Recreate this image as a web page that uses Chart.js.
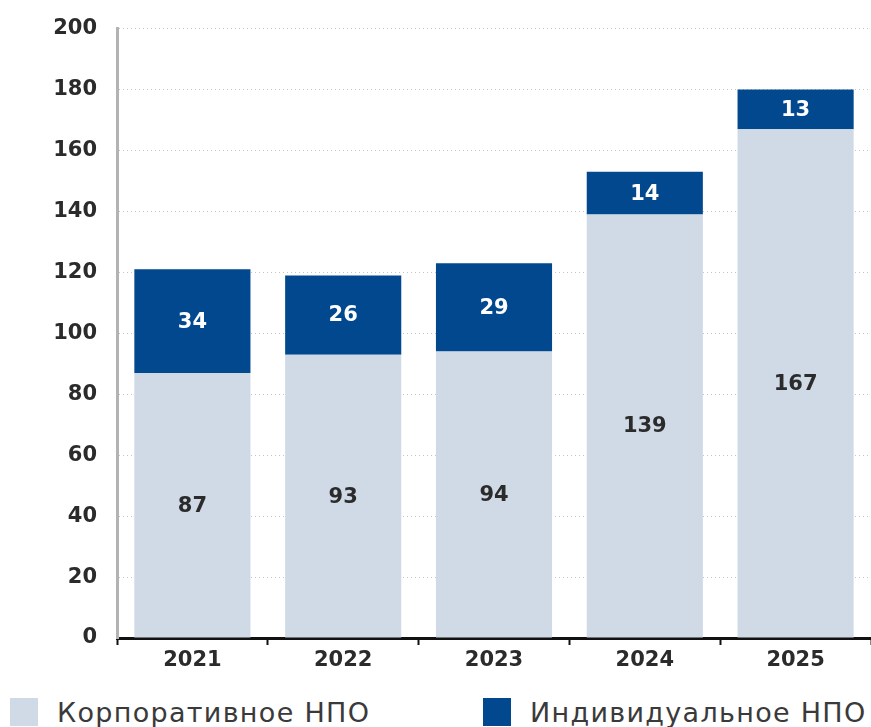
<!DOCTYPE html>
<html>
<head>
<meta charset="utf-8">
<script src="https://cdn.jsdelivr.net/npm/chart.js@4"></script>
<style>
  html, body { margin: 0; padding: 0; background: #fff; overflow: hidden; }
  #wrap { position: relative; width: 871px; height: 727px; overflow: hidden; }
  #npoChart { position: absolute; left: 0; top: -4px; }
  .legend-item { position: absolute; top: 698px; height: 28px; display: flex; align-items: center;
    font-family: "DejaVu Sans", sans-serif; font-size: 27px; letter-spacing: 1.3px; color: #3a3a3a; white-space: nowrap; }
  .legend-item span.box { display: inline-block; width: 28px; height: 28px; margin-right: 19px; }
</style>
</head>
<body>
<div id="wrap">
  <canvas id="npoChart" width="871" height="696"></canvas>
  <div id="legend"></div>
</div>
<script>
const years = ['2021', '2022', '2023', '2024', '2025'];
const corporate = [87, 93, 94, 139, 167];
const individual = [34, 26, 29, 14, 13];
const yTicks = [0, 20, 40, 60, 80, 100, 120, 140, 160, 180, 200];

const FONT = '"DejaVu Sans", sans-serif';
const colors = ['#d0dae6', '#02488f'];

// value labels centered in each bar segment
const segmentLabels = {
  id: 'segmentLabels',
  afterDatasetsDraw(chart) {
    const ctx = chart.ctx;
    ctx.save();
    ctx.font = 'bold 21px ' + FONT;
    ctx.textAlign = 'center';
    ctx.textBaseline = 'middle';
    chart.data.datasets.forEach((ds, i) => {
      chart.getDatasetMeta(i).data.forEach((bar, j) => {
        const p = bar.getProps(['x', 'y', 'base'], true);
        ctx.fillStyle = i === 0 ? '#2b2b2b' : '#ffffff';
        ctx.fillText(ds.data[j], p.x, (p.y + p.base) / 2 + 1);
      });
    });
    ctx.restore();
  }
};

const ctx = document.getElementById('npoChart').getContext('2d');
const chart = new Chart(ctx, {
  type: 'bar',
  data: {
    labels: years,
    datasets: [
      {
        label: 'Корпоративное НПО',
        data: corporate,
        backgroundColor: colors[0],
        categoryPercentage: 1,
        barPercentage: 0.77
      },
      {
        label: 'Индивидуальное НПО',
        data: individual,
        backgroundColor: colors[1],
        categoryPercentage: 1,
        barPercentage: 0.77
      }
    ]
  },
  plugins: [segmentLabels],
  options: {
    responsive: false,
    animation: false,
    layout: { padding: { top: 8, right: 0, left: 0, bottom: 0 } },
    plugins: {
      tooltip: { enabled: false },
      legend: { display: false }
    },
    scales: {
      x: {
        stacked: true,
        afterFit: axis => { axis.height = 696 - 642; },
        grid: {
          display: true,
          drawOnChartArea: false,
          drawTicks: true,
          tickLength: 7,
          tickWidth: 2,
          tickColor: '#111',
          offset: true
        },
        border: { display: true, color: '#111', width: 3 },
        ticks: {
          color: '#2b2b2b',
          padding: 3,
          font: { family: FONT, size: 21, weight: 'bold' }
        }
      },
      y: {
        stacked: true,
        min: 0,
        max: 200,
        afterFit: axis => { axis.width = 117; },
        afterBuildTicks: axis => { axis.ticks = yTicks.map(v => ({ value: v })); },
        grid: {
          color: '#c4c4c4',
          lineWidth: 1,
          drawTicks: false
        },
        border: { display: true, color: '#b3b3b3', width: 3, dash: [1, 3] },
        ticks: {
          color: '#2b2b2b',
          padding: 20,
          font: { family: FONT, size: 21, weight: 'bold' }
        }
      }
    }
  }
});

// html legend under the canvas
const legendLeft = [10, 483];
const legendEl = document.getElementById('legend');
chart.data.datasets.forEach((ds, i) => {
  const item = document.createElement('div');
  item.className = 'legend-item';
  item.style.left = legendLeft[i] + 'px';
  item.innerHTML = '<span class="box" style="background:' + ds.backgroundColor + '"></span>' + ds.label;
  legendEl.appendChild(item);
});
</script>
</body>
</html>
